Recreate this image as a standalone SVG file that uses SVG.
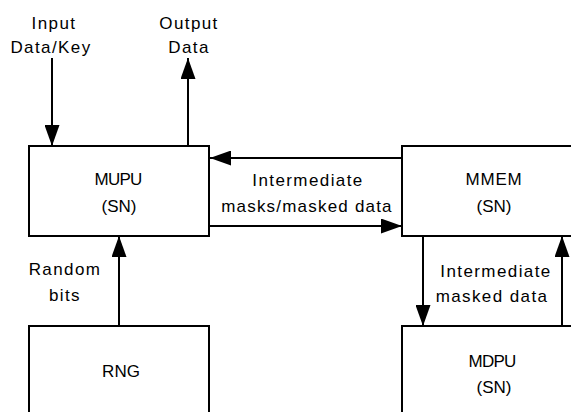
<svg xmlns="http://www.w3.org/2000/svg" width="571" height="412" viewBox="0 0 571 412">
<style>
.box{fill:#fff;stroke:#000;stroke-width:2}
.lbl{font-family:"Liberation Sans",Arial,sans-serif;font-size:17px;letter-spacing:1.4px;text-anchor:middle;fill:#000}
.nd{font-family:"Liberation Sans",Arial,sans-serif;font-size:17px;text-anchor:middle;fill:#000}
.ln{stroke:#000;stroke-width:2;fill:none;marker-end:url(#ah)}
</style>
<defs>
<marker id="ah" viewBox="0 0 21 15" refX="21" refY="7.5" markerWidth="21" markerHeight="15" markerUnits="userSpaceOnUse" orient="auto">
<path d="M0,0 L21,7.5 L0,15 z" fill="#000"/>
</marker>
</defs>
<g id="connectors">
<line class="ln" x1="52" y1="58" x2="52" y2="146"/>
<line class="ln" x1="188" y1="146" x2="188" y2="58"/>
<line class="ln" x1="402" y1="158" x2="210" y2="158"/>
<line class="ln" x1="209" y1="226" x2="402" y2="226"/>
<line class="ln" x1="119" y1="326" x2="119" y2="236"/>
<line class="ln" x1="423" y1="236" x2="423" y2="326"/>
<line class="ln" x1="562" y1="326" x2="562" y2="236"/>
</g>
<g id="labels">
<text class="lbl" x="54" y="29">Input</text>
<text class="lbl" x="51" y="53">Data/Key</text>
<text class="lbl" x="189" y="29">Output</text>
<text class="lbl" x="189" y="53">Data</text>
<text class="lbl" x="308" y="186">Intermediate</text>
<text class="lbl" x="307" y="212" style="letter-spacing:1.2px">masks/masked data</text>
<text class="lbl" x="65" y="275">Random</text>
<text class="lbl" x="65" y="301">bits</text>
<text class="lbl" x="496" y="277">Intermediate</text>
<text class="lbl" x="492" y="302">masked data</text>
</g>
<g id="MUPU">
<rect class="box" x="29" y="146" width="180" height="90"/>
<text class="nd" x="118" y="185" style="letter-spacing:-0.8px">MUPU</text>
<text class="nd" x="119" y="212">(SN)</text>
</g>
<g id="MMEM">
<rect class="box" x="402" y="146" width="182" height="90"/>
<text class="nd" x="494" y="185" style="letter-spacing:0.8px">MMEM</text>
<text class="nd" x="494" y="212">(SN)</text>
</g>
<g id="RNG">
<rect class="box" x="29" y="326" width="180" height="92"/>
<text class="nd" x="121" y="377">RNG</text>
</g>
<g id="MDPU">
<rect class="box" x="402" y="326" width="182" height="92"/>
<text class="nd" x="492" y="367" style="letter-spacing:-0.8px">MDPU</text>
<text class="nd" x="494" y="393">(SN)</text>
</g>
</svg>
